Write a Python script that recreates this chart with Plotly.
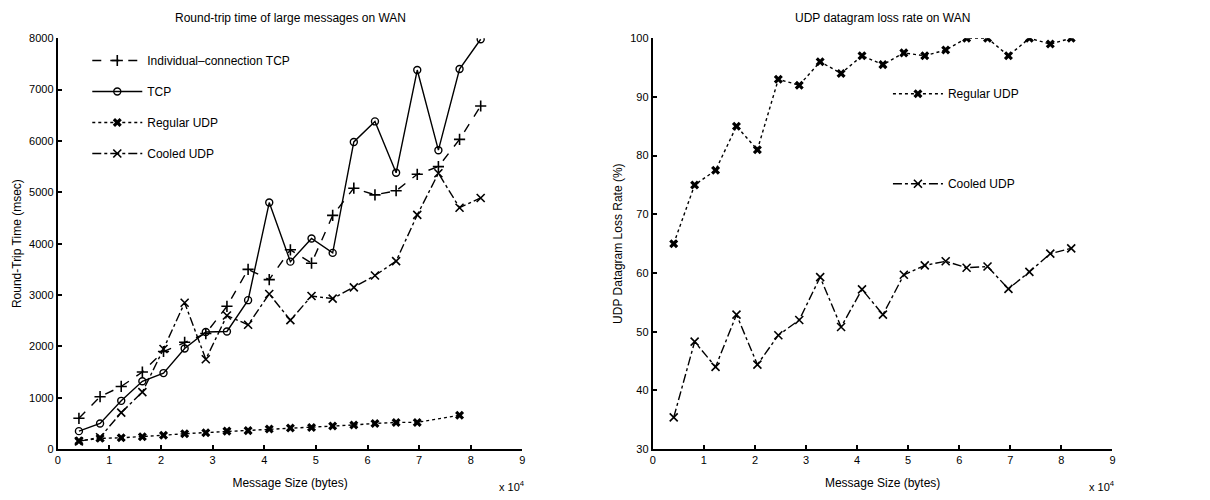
import plotly.graph_objects as go

# ---------------- data ----------------
msg_size = [4096, 8192, 12288, 16384, 20480, 24576, 28672, 32768, 36864, 40960,
            45056, 49152, 53248, 57344, 61440, 65536, 69632, 73728, 77824, 81920]

rtt_ind_tcp = [600, 1020, 1220, 1500, 1900, 2080, 2250, 2780, 3500, 3300,
               3880, 3620, 4550, 5080, 4950, 5030, 5350, 5500, 6030, 6680]
rtt_tcp = [350, 500, 940, 1320, 1480, 1960, 2280, 2290, 2900, 4800,
           3650, 4100, 3820, 5980, 6380, 5380, 7380, 5820, 7400, 7980]
rtt_reg_udp_size = [4096, 8192, 12288, 16384, 20480, 24576, 28672, 32768, 36864,
                    40960, 45056, 49152, 53248, 57344, 61440, 65536, 69632, 77824]
rtt_reg_udp = [160, 210, 220, 240, 270, 300, 320, 350, 360,
               390, 410, 420, 450, 470, 500, 520, 520, 660]
rtt_cooled_udp = [150, 230, 710, 1110, 1950, 2850, 1750, 2600, 2420, 3020,
                  2510, 2980, 2930, 3150, 3380, 3660, 4560, 5370, 4700, 4890]

loss_reg_udp = [65, 75, 77.5, 85, 81, 93, 92, 96, 94, 97,
                95.5, 97.5, 97, 98, 100, 100, 97, 100, 99, 100]
loss_cooled_udp = [35.4, 48.3, 44, 52.9, 44.4, 49.4, 52, 59.3, 50.8, 57.2,
                   52.9, 59.7, 61.3, 62, 60.9, 61.1, 57.3, 60.2, 63.3, 64.2]

x_tick_vals = [0, 10000, 20000, 30000, 40000, 50000, 60000, 70000, 80000, 90000]
x_tick_text = ["0", "1", "2", "3", "4", "5", "6", "7", "8", "9"]
rtt_tick_vals = [0, 1000, 2000, 3000, 4000, 5000, 6000, 7000, 8000]
loss_tick_vals = [30, 40, 50, 60, 70, 80, 90, 100]

left_title = "Round-trip time of large messages on WAN"
right_title = "UDP datagram loss rate on WAN"

# ---------------- figure ----------------
FONT = "Liberation Sans, Arial, sans-serif"
fig = go.Figure()

def line(dash):
    return dict(color="black", width=1.4, dash=dash)

fig.add_trace(go.Scatter(x=msg_size, y=rtt_ind_tcp, name="Individual–connection TCP",
                         mode="lines+markers", line=line("dash"),
                         marker=dict(symbol="cross-thin-open", size=8,
                                     line=dict(color="black", width=1.6)),
                         xaxis="x", yaxis="y", legend="legend", legendgroup="a"))
fig.add_trace(go.Scatter(x=msg_size, y=rtt_tcp, name="TCP",
                         mode="lines+markers", line=line("solid"),
                         marker=dict(symbol="circle-open", size=7, color="black",
                                     line=dict(color="black", width=1.4)),
                         xaxis="x", yaxis="y", legend="legend", legendgroup="b"))
fig.add_trace(go.Scatter(x=rtt_reg_udp_size, y=rtt_reg_udp, name="Regular UDP",
                         mode="lines+markers", line=line("dot"),
                         marker=dict(symbol="x", size=8, color="black"),
                         xaxis="x", yaxis="y", legend="legend", legendgroup="c"))
fig.add_trace(go.Scatter(x=msg_size, y=rtt_cooled_udp, name="Cooled UDP",
                         mode="lines+markers", line=line("dashdot"),
                         marker=dict(symbol="x-thin-open", size=8,
                                     line=dict(color="black", width=1.6)),
                         xaxis="x", yaxis="y", legend="legend", legendgroup="d"))

fig.add_trace(go.Scatter(x=msg_size, y=loss_reg_udp, name="Regular UDP",
                         mode="lines+markers", line=line("dot"),
                         marker=dict(symbol="x", size=8, color="black"),
                         xaxis="x2", yaxis="y2", legend="legend2", legendgroup="e"))
fig.add_trace(go.Scatter(x=msg_size, y=loss_cooled_udp, name="Cooled UDP",
                         mode="lines+markers", line=line("dashdot"),
                         marker=dict(symbol="x-thin-open", size=8,
                                     line=dict(color="black", width=1.6)),
                         xaxis="x2", yaxis="y2", legend="legend2", legendgroup="f"))

x_dom1 = [0.0455, 0.4314]
x_dom2 = [0.5397, 0.9215]
y_dom = [0.092, 0.934]

fig.update_layout(
    template="simple_white",
    width=1210, height=500,
    margin=dict(l=0, r=0, t=0, b=0),
    paper_bgcolor="white", plot_bgcolor="white",
    font=dict(family=FONT, size=12, color="black"),
    showlegend=True,
    xaxis=dict(domain=x_dom1, range=[0, 90000], tickvals=x_tick_vals,
               ticktext=x_tick_text, anchor="y",
               title=dict(text="Message Size (bytes)", standoff=13)),
    yaxis=dict(domain=y_dom, range=[0, 8000], tickvals=rtt_tick_vals, anchor="x",
               title=dict(text="Round-Trip Time (msec)", standoff=5)),
    xaxis2=dict(domain=x_dom2, range=[0, 90000], tickvals=x_tick_vals,
                ticktext=x_tick_text, anchor="y2",
                title=dict(text="Message Size (bytes)", standoff=13)),
    yaxis2=dict(domain=y_dom, range=[30, 100], tickvals=loss_tick_vals, anchor="x2",
                title=dict(text="UDP Datagram Loss Rate (%)", standoff=5)),
    legend=dict(x=0.07, y=0.918, xanchor="left", yanchor="top",
                bgcolor="rgba(0,0,0,0)", borderwidth=0, traceorder="grouped",
                tracegroupgap=12, itemwidth=50,
                font=dict(family=FONT, size=12, color="black")),
    legend2=dict(x=0.735, y=0.85, xanchor="left", yanchor="top",
                 bgcolor="rgba(0,0,0,0)", borderwidth=0, traceorder="grouped",
                 tracegroupgap=71, itemwidth=50,
                 font=dict(family=FONT, size=12, color="black")),
    annotations=[
        dict(text=left_title, x=sum(x_dom1) / 2, y=0.975, xref="paper", yref="paper",
             xanchor="center", yanchor="middle", showarrow=False,
             font=dict(family=FONT, size=12, color="black")),
        dict(text=right_title, x=sum(x_dom2) / 2, y=0.975, xref="paper", yref="paper",
             xanchor="center", yanchor="middle", showarrow=False,
             font=dict(family=FONT, size=12, color="black")),
        dict(text="x 10<sup>4</sup>", x=x_dom1[1] + 0.004, y=0.016, xref="paper",
             yref="paper", xanchor="right", yanchor="middle", showarrow=False,
             font=dict(family=FONT, size=11, color="black")),
        dict(text="x 10<sup>4</sup>", x=x_dom2[1] + 0.004, y=0.016, xref="paper",
             yref="paper", xanchor="right", yanchor="middle", showarrow=False,
             font=dict(family=FONT, size=11, color="black")),
    ],
)

axis_style = dict(showline=True, linecolor="black", linewidth=2, mirror=False,
                  ticks="inside", ticklen=4, tickwidth=1.5, tickcolor="black",
                  showgrid=False, zeroline=False,
                  tickfont=dict(family=FONT, size=11, color="black"),
                  title_font=dict(family=FONT, size=12, color="black"))
fig.update_xaxes(**axis_style)
fig.update_yaxes(**axis_style)

fig.write_html("out.html")
